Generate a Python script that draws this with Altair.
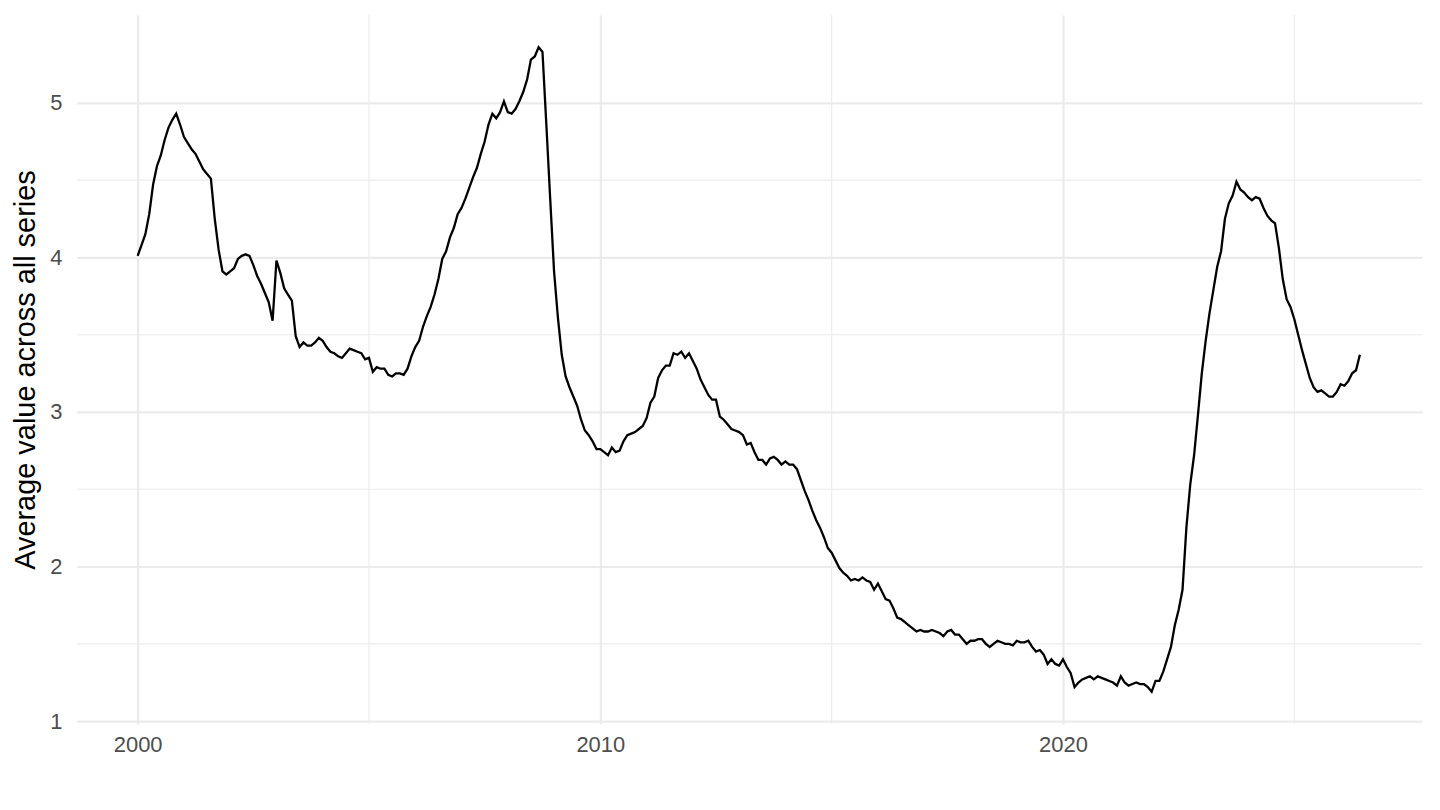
import altair as alt
import pandas as pd

# Monthly averages, Jan 2000 .. Jun 2026
values_2000 = [4.01, 4.08, 4.15, 4.28, 4.47, 4.59, 4.66, 4.76, 4.84, 4.89, 4.93, 4.86]
values_2001 = [4.78, 4.74, 4.70, 4.67, 4.62, 4.57, 4.54, 4.51, 4.25, 4.05, 3.91, 3.89]
values_2002 = [3.91, 3.93, 3.99, 4.01, 4.02, 4.01, 3.95, 3.88, 3.83, 3.77, 3.71, 3.59]
values_2003 = [3.98, 3.90, 3.80, 3.76, 3.72, 3.49, 3.42, 3.45, 3.43, 3.43, 3.45, 3.48]
values_2004 = [3.46, 3.42, 3.39, 3.38, 3.36, 3.35, 3.38, 3.41, 3.40, 3.39, 3.38, 3.34]
values_2005 = [3.35, 3.26, 3.29, 3.28, 3.28, 3.24, 3.23, 3.25, 3.25, 3.24, 3.28, 3.36]
values_2006 = [3.42, 3.46, 3.55, 3.62, 3.68, 3.76, 3.86, 3.99, 4.04, 4.13, 4.19, 4.28]
values_2007 = [4.32, 4.38, 4.45, 4.52, 4.58, 4.67, 4.75, 4.86, 4.93, 4.90, 4.94, 5.01]
values_2008 = [4.94, 4.93, 4.96, 5.01, 5.07, 5.15, 5.28, 5.30, 5.36, 5.33, 4.86, 4.38]
values_2009 = [3.91, 3.61, 3.37, 3.23, 3.16, 3.10, 3.04, 2.95, 2.88, 2.85, 2.81, 2.76]
values_2010 = [2.76, 2.74, 2.72, 2.77, 2.74, 2.75, 2.81, 2.85, 2.86, 2.87, 2.89, 2.91]
values_2011 = [2.96, 3.06, 3.10, 3.22, 3.27, 3.30, 3.30, 3.38, 3.37, 3.39, 3.35, 3.38]
values_2012 = [3.33, 3.28, 3.21, 3.16, 3.11, 3.08, 3.08, 2.97, 2.95, 2.92, 2.89, 2.88]
values_2013 = [2.87, 2.85, 2.79, 2.80, 2.74, 2.69, 2.69, 2.66, 2.70, 2.71, 2.69, 2.66]
values_2014 = [2.68, 2.66, 2.66, 2.63, 2.56, 2.49, 2.43, 2.36, 2.30, 2.25, 2.19, 2.12]
values_2015 = [2.09, 2.04, 1.99, 1.96, 1.94, 1.91, 1.92, 1.91, 1.93, 1.91, 1.90, 1.85]
values_2016 = [1.89, 1.84, 1.79, 1.78, 1.73, 1.67, 1.66, 1.64, 1.62, 1.60, 1.58, 1.59]
values_2017 = [1.58, 1.58, 1.59, 1.58, 1.57, 1.55, 1.58, 1.59, 1.56, 1.56, 1.53, 1.50]
values_2018 = [1.52, 1.52, 1.53, 1.53, 1.50, 1.48, 1.50, 1.52, 1.51, 1.50, 1.50, 1.49]
values_2019 = [1.52, 1.51, 1.51, 1.52, 1.48, 1.45, 1.46, 1.43, 1.37, 1.40, 1.37, 1.36]
values_2020 = [1.40, 1.35, 1.31, 1.22, 1.25, 1.27, 1.28, 1.29, 1.27, 1.29, 1.28, 1.27]
values_2021 = [1.26, 1.25, 1.23, 1.29, 1.25, 1.23, 1.24, 1.25, 1.24, 1.24, 1.22, 1.19]
values_2022 = [1.26, 1.26, 1.32, 1.40, 1.48, 1.62, 1.72, 1.85, 2.25, 2.53, 2.72, 2.98]
values_2023 = [3.25, 3.46, 3.64, 3.79, 3.94, 4.04, 4.25, 4.35, 4.40, 4.49, 4.44, 4.42]
values_2024 = [4.39, 4.37, 4.39, 4.38, 4.32, 4.27, 4.24, 4.22, 4.06, 3.86, 3.73, 3.68]
values_2025 = [3.60, 3.50, 3.40, 3.31, 3.22, 3.16, 3.13, 3.14, 3.12, 3.10, 3.10, 3.13]
values_2026 = [3.18, 3.17, 3.20, 3.25, 3.27, 3.37]

values = (values_2000 + values_2001 + values_2002 + values_2003 + values_2004 +
          values_2005 + values_2006 + values_2007 + values_2008 + values_2009 +
          values_2010 + values_2011 + values_2012 + values_2013 + values_2014 +
          values_2015 + values_2016 + values_2017 + values_2018 + values_2019 +
          values_2020 + values_2021 + values_2022 + values_2023 + values_2024 +
          values_2025 + values_2026)

dates = pd.date_range("2000-01-01", periods=len(values), freq="MS")
df = pd.DataFrame({"t": dates.year + (dates.month - 1) / 12.0, "v": values})

x_major = [2000, 2010, 2020]
x_minor = [2005, 2015, 2025]
y_major = [1, 2, 3, 4, 5]
y_minor = [1.5, 2.5, 3.5, 4.5]

y_title = "Average value across all series"

FONT = "Liberation Sans"
GRID = "#EBEBEB"

xscale = alt.Scale(domain=[1998.685, 2027.76], nice=False, zero=False)
yscale = alt.Scale(domain=[0.981, 5.568], nice=False, zero=False)

x_axis = alt.Axis(
    values=x_major, format="d", title=None, grid=True,
    gridColor=GRID, gridWidth=2.2, ticks=False, tickSize=0,
    domain=False, labelFontSize=22, labelColor="#4D4D4D",
    labelPadding=11, labelFont=FONT,
)
y_axis = alt.Axis(
    values=y_major, format="d", title=y_title, grid=True,
    gridColor=GRID, gridWidth=2.2, ticks=False, tickSize=0,
    domain=False, labelFontSize=22, labelColor="#4D4D4D",
    labelPadding=15, labelFont=FONT, titleFont=FONT,
    titleFontSize=29, titleFontWeight="normal", titleColor="black",
    titlePadding=9,
)

minor_x = alt.Chart(pd.DataFrame({"x": x_minor})).mark_rule(
    color=GRID, strokeWidth=1.1
).encode(x=alt.X("x:Q", scale=xscale, axis=x_axis))

minor_y = alt.Chart(pd.DataFrame({"y": y_minor})).mark_rule(
    color=GRID, strokeWidth=1.1
).encode(y=alt.Y("y:Q", scale=yscale, axis=y_axis))

line = alt.Chart(df).mark_line(color="black", strokeWidth=2.3).encode(
    x=alt.X("t:Q", scale=xscale, axis=x_axis),
    y=alt.Y("v:Q", scale=yscale, axis=y_axis),
)

chart = (
    alt.layer(minor_x, minor_y, line)
    .properties(
        width=1349,
        height=711,
        autosize=alt.AutoSizeParams(type="none"),
        padding={"left": 69, "top": 6, "right": 10, "bottom": 50},
        background="white",
    )
    .configure_view(stroke=None)
)

chart.save("out.html", embed_options={"renderer": "svg", "actions": False})
